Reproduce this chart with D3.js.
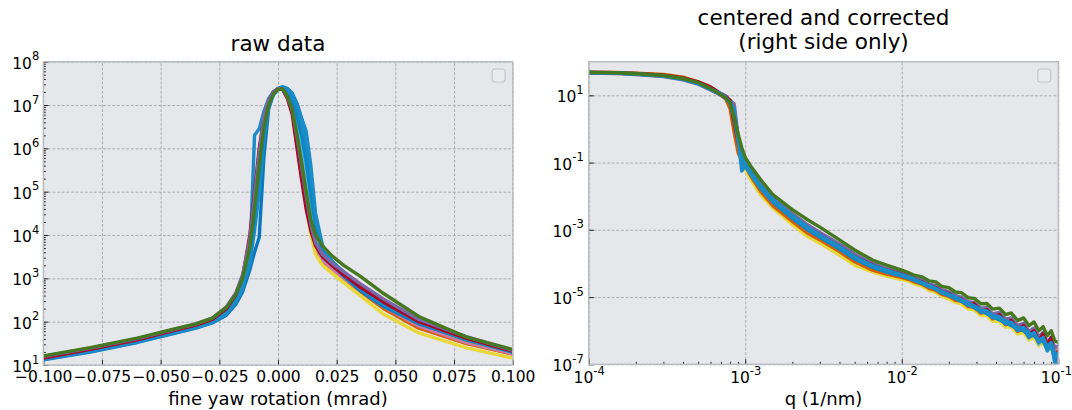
<!DOCTYPE html>
<html>
<head>
<meta charset="utf-8">
<script src="https://cdn.jsdelivr.net/npm/d3@7"></script>
<style>
    body { margin: 0; background: #fff; }
    svg text { font-family: 'DejaVu Sans', sans-serif; fill: #000; }
</style>
</head>
<body>
<svg id="chart" width="1072" height="410"></svg>
<script>

// ---- raw data panel (yaw in mrad, intensity as log10) ----
var yawX = [-0.1, -0.08, -0.06, -0.045, -0.035, -0.028, -0.022, -0.018, -0.015, -0.012, -0.01, -0.008,
    -0.006, -0.004, -0.002, 0, 0.002, 0.004, 0.006, 0.008, 0.01, 0.012, 0.014, 0.016, 0.019, 0.023,
    0.028, 0.035, 0.045, 0.06, 0.08, 0.1];

var rawOrange = [1.19, 1.37, 1.58, 1.78, 1.92, 2.04, 2.28, 2.58, 2.95, 3.6, 4.5, 5.5, 6.45, 7.0, 7.25, 7.36, 7.38, 7.22, 6.95, 6.35, 5.6, 4.9, 4.2, 3.7, 3.4, 3.2, 2.98, 2.7, 2.3, 1.85, 1.5, 1.25];
var rawPink = [1.18, 1.36, 1.58, 1.78, 1.91, 2.03, 2.27, 2.57, 2.95, 3.65, 4.55, 5.55, 6.45, 7.0, 7.25, 7.35, 7.37, 7.22, 6.95, 6.35, 5.6, 4.9, 4.2, 3.72, 3.42, 3.22, 3.0, 2.72, 2.35, 1.9, 1.52, 1.26];
var rawTeal = [1.2, 1.38, 1.6, 1.8, 1.93, 2.05, 2.3, 2.6, 3.0, 3.7, 4.6, 5.6, 6.5, 7.02, 7.26, 7.36, 7.38, 7.24, 6.98, 6.4, 5.65, 4.95, 4.25, 3.8, 3.5, 3.3, 3.1, 2.8, 2.45, 1.98, 1.58, 1.3];
var rawYellow = [1.18, 1.36, 1.57, 1.77, 1.9, 2.02, 2.26, 2.55, 2.9, 3.55, 4.45, 5.45, 6.4, 6.98, 7.24, 7.35, 7.38, 7.24, 6.98, 6.4, 5.55, 4.7, 4.0, 3.55, 3.3, 3.12, 2.9, 2.6, 2.17, 1.74, 1.4, 1.16];
var rawLightBlue = [1.15, 1.34, 1.56, 1.76, 1.89, 2.01, 2.24, 2.52, 2.88, 3.5, 4.3, 5.3, 6.35, 6.95, 7.22, 7.35, 7.39, 7.3, 7.1, 6.7, 6.1, 5.4, 4.6, 4.0, 3.6, 3.35, 3.1, 2.8, 2.45, 2.0, 1.6, 1.3];
var rawDarkBlue = [1.12, 1.3, 1.52, 1.72, 1.85, 1.97, 2.15, 2.4, 2.7, 3.2, 3.6, 3.95, 5.8, 6.9, 7.25, 7.38, 7.42, 7.38, 7.28, 7.05, 6.7, 6.3, 5.4, 4.4, 3.7, 3.32, 3.05, 2.72, 2.35, 1.95, 1.6, 1.3];
var rawBlue2 = [1.13, 1.31, 1.53, 1.73, 1.86, 1.98, 2.18, 2.45, 2.78, 3.35, 4.1, 5.0, 6.2, 6.95, 7.28, 7.38, 7.41, 7.36, 7.22, 6.95, 6.55, 6.05, 5.2, 4.3, 3.65, 3.35, 3.08, 2.76, 2.4, 1.98, 1.6, 1.31];
var rawBlue3 = [1.15, 1.33, 1.55, 1.75, 1.88, 2.0, 2.22, 2.5, 2.85, 3.5, 4.4, 5.4, 6.4, 7.0, 7.26, 7.37, 7.4, 7.3, 7.1, 6.75, 6.3, 5.7, 4.9, 4.2, 3.62, 3.38, 3.15, 2.85, 2.5, 2.05, 1.64, 1.34];
var rawBlue = [1.14, 1.32, 1.54, 1.74, 1.87, 1.99, 2.2, 2.48, 2.82, 3.45, 6.3, 6.45, 6.85, 7.15, 7.3, 7.38, 7.42, 7.38, 7.25, 7.0, 6.7, 6.4, 5.6, 4.5, 3.75, 3.4, 3.12, 2.8, 2.42, 2.0, 1.62, 1.33];
var rawRed = [1.16, 1.36, 1.58, 1.79, 1.92, 2.05, 2.3, 2.62, 3.05, 4.0, 5.0, 6.0, 6.7, 7.1, 7.3, 7.37, 7.36, 7.15, 6.8, 6.05, 5.3, 4.6, 4.1, 3.75, 3.5, 3.3, 3.08, 2.8, 2.45, 2.0, 1.62, 1.32];
var rawPurple = [1.2, 1.39, 1.61, 1.81, 1.95, 2.08, 2.34, 2.66, 3.1, 3.9, 4.9, 5.9, 6.75, 7.12, 7.3, 7.38, 7.36, 7.2, 6.9, 6.3, 5.6, 4.9, 4.25, 3.82, 3.55, 3.35, 3.15, 2.88, 2.52, 2.05, 1.66, 1.34];
var rawGreen = [1.21, 1.4, 1.62, 1.82, 1.95, 2.08, 2.33, 2.63, 3.02, 3.72, 4.62, 5.6, 6.5, 7.0, 7.25, 7.36, 7.37, 7.2, 6.9, 6.35, 5.7, 5.0, 4.35, 4.0, 3.75, 3.52, 3.3, 3.05, 2.65, 2.12, 1.65, 1.36];

var rawSeries = [rawOrange, rawPink, rawTeal, rawYellow, rawLightBlue, rawDarkBlue, rawBlue2, rawBlue3, rawBlue, rawRed, rawPurple, rawGreen];
var rawColors = ['#D55E00', '#CC79A7', '#009E73', '#E8D83A', '#56B4E9', '#0B78BE', '#1A8DC9', '#0E86C6', '#1A8DC9', '#A60628', '#7A68A6', '#467821'];

var yawTicks = [-0.1, -0.075, -0.05, -0.025, 0, 0.025, 0.05, 0.075, 0.1];
var yawTickLabels = ['\u22120.100', '\u22120.075', '\u22120.050', '\u22120.025', '0.000', '0.025', '0.050', '0.075', '0.100'];
var rawDecades = [1, 2, 3, 4, 5, 6, 7, 8];

// ---- corrected panel (q in 1/nm, intensity as log10) ----
var qX = [1e-4, 1.5e-4, 2e-4, 3e-4, 4e-4, 5e-4, 6e-4, 7e-4, 7.5e-4, 8e-4, 8.5e-4, 9e-4, 9.5e-4, 1e-3,
    1.1e-3, 1.25e-3, 1.5e-3, 2e-3, 2.5e-3, 3e-3, 4e-3, 5e-3, 6.5e-3, 8e-3, 1e-2,
    1.1e-2, 1.2e-2, 1.35e-2, 1.5e-2, 1.65e-2, 1.8e-2, 2e-2, 2.2e-2, 2.4e-2, 2.65e-2, 2.9e-2, 3.2e-2,
    3.5e-2, 3.8e-2, 4.2e-2, 4.6e-2, 5e-2, 5.5e-2, 6e-2, 6.5e-2, 7e-2, 7.5e-2, 8e-2, 8.5e-2, 9e-2, 9.5e-2, 1e-1];

var corYellow = [1.67, 1.66, 1.63, 1.58, 1.49, 1.36, 1.2, 1.02, 0.92, 0.75, 0.1, -0.5, -0.85, -1.2, -1.55, -1.95, -2.35, -2.85, -3.2, -3.4, -3.75, -4.05, -4.25, -4.38, -4.48,
    -4.52, -4.6, -4.68, -4.8, -4.86, -4.98, -5.06, -5.16, -5.2, -5.35, -5.38, -5.55, -5.55, -5.72, -5.72, -5.9, -5.88, -6.1, -6.05, -6.28, -6.2, -6.45, -6.35, -6.6, -6.5, -6.75, -6.7];
var corPink = [1.67, 1.66, 1.63, 1.58, 1.5, 1.37, 1.2, 1.02, 0.92, 0.78, 0.25, -0.35, -0.8, -1.0, -1.3, -1.68, -2.1, -2.55, -2.88, -3.1, -3.45, -3.75, -4.02, -4.18, -4.3,
    -4.38, -4.46, -4.53, -4.64, -4.7, -4.82, -4.87, -4.98, -5.03, -5.18, -5.2, -5.38, -5.36, -5.55, -5.52, -5.72, -5.66, -5.9, -5.82, -6.08, -5.97, -6.25, -6.12, -6.4, -6.25, -6.55, -6.5];
var corLightBlue = [1.68, 1.66, 1.64, 1.58, 1.49, 1.37, 1.19, 1.02, 0.9, 0.7, 0.3, -0.4, -1.0, -1.05, -1.38, -1.78, -2.2, -2.68, -3.02, -3.25, -3.6, -3.9, -4.15, -4.28, -4.4,
    -4.45, -4.52, -4.6, -4.72, -4.78, -4.9, -4.95, -5.08, -5.1, -5.27, -5.25, -5.46, -5.42, -5.64, -5.58, -5.82, -5.72, -6.02, -5.9, -6.22, -6.05, -6.4, -6.2, -6.6, -6.4, -6.85, -6.95];
var corPurple = [1.66, 1.65, 1.62, 1.56, 1.46, 1.33, 1.16, 1.0, 0.9, 0.85, 0.75, -0.2, -0.9, -1.05, -1.3, -1.65, -2.05, -2.52, -2.85, -3.08, -3.42, -3.72, -4.0, -4.15, -4.28,
    -4.35, -4.43, -4.5, -4.62, -4.66, -4.78, -4.84, -4.95, -5.0, -5.14, -5.16, -5.33, -5.32, -5.5, -5.46, -5.66, -5.62, -5.85, -5.78, -6.02, -5.92, -6.18, -6.05, -6.35, -6.2, -6.5, -6.45];
var corOrange = [1.69, 1.68, 1.66, 1.62, 1.54, 1.4, 1.22, 1.0, 0.9, 0.6, -0.1, -0.7, -0.95, -1.1, -1.45, -1.85, -2.28, -2.75, -3.1, -3.3, -3.65, -3.95, -4.2, -4.32, -4.42,
    -4.47, -4.55, -4.62, -4.75, -4.8, -4.92, -4.98, -5.1, -5.12, -5.28, -5.3, -5.48, -5.45, -5.65, -5.6, -5.82, -5.78, -6.02, -5.95, -6.2, -6.1, -6.35, -6.25, -6.5, -6.4, -6.7, -6.6];
var corRed = [1.68, 1.67, 1.65, 1.6, 1.52, 1.4, 1.25, 1.05, 0.98, 0.85, 0.2, -0.4, -0.8, -1.0, -1.35, -1.72, -2.15, -2.6, -2.95, -3.15, -3.5, -3.8, -4.05, -4.2, -4.32,
    -4.4, -4.48, -4.55, -4.66, -4.72, -4.84, -4.9, -5.02, -5.06, -5.22, -5.2, -5.42, -5.38, -5.6, -5.52, -5.78, -5.7, -5.95, -5.85, -6.12, -6.0, -6.3, -6.1, -6.45, -6.2, -6.9, -6.6];
var corBlue3 = [1.67, 1.66, 1.63, 1.57, 1.48, 1.35, 1.18, 1.02, 0.92, 0.76, 0.3, -0.35, -0.9, -1.08, -1.38, -1.76, -2.18, -2.66, -3.0, -3.22, -3.57, -3.87, -4.12, -4.26, -4.38,
    -4.44, -4.5, -4.6, -4.68, -4.77, -4.86, -4.96, -5.03, -5.13, -5.2, -5.32, -5.4, -5.5, -5.58, -5.68, -5.76, -5.85, -5.96, -6.0, -6.14, -6.15, -6.3, -6.32, -6.55, -6.45, -6.8, -6.65];
var corBlue2 = [1.68, 1.67, 1.64, 1.58, 1.49, 1.36, 1.19, 1.03, 0.93, 0.78, 0.45, -0.2, -0.75, -1.02, -1.32, -1.68, -2.1, -2.58, -2.92, -3.15, -3.5, -3.8, -4.06, -4.2, -4.33,
    -4.4, -4.47, -4.57, -4.66, -4.74, -4.84, -4.92, -5.0, -5.08, -5.18, -5.26, -5.38, -5.42, -5.55, -5.58, -5.72, -5.76, -5.92, -5.9, -6.08, -6.1, -6.28, -6.22, -6.48, -6.35, -6.7, -6.85];
var corBlue = [1.68, 1.66, 1.63, 1.57, 1.48, 1.35, 1.18, 1.05, 0.95, 0.8, 0.6, -0.3, -1.25, -1.1, -1.4, -1.75, -2.15, -2.62, -2.95, -3.18, -3.52, -3.82, -4.08, -4.22, -4.35,
    -4.42, -4.5, -4.58, -4.7, -4.75, -4.88, -4.93, -5.05, -5.1, -5.25, -5.27, -5.45, -5.43, -5.62, -5.6, -5.8, -5.75, -6.0, -5.92, -6.2, -6.05, -6.35, -6.2, -6.6, -6.4, -6.95, -7.0];
var corGreen = [1.68, 1.67, 1.64, 1.59, 1.5, 1.38, 1.2, 1.02, 0.92, 0.8, 0.35, -0.15, -0.55, -0.85, -1.15, -1.5, -1.95, -2.4, -2.7, -2.92, -3.3, -3.6, -3.9, -4.05, -4.2,
    -4.27, -4.35, -4.4, -4.52, -4.55, -4.68, -4.72, -4.85, -4.87, -5.02, -5.04, -5.2, -5.19, -5.36, -5.33, -5.52, -5.47, -5.7, -5.62, -5.85, -5.74, -6.0, -5.88, -6.15, -6.0, -6.3, -6.35];

var corSeries = [corYellow, corPink, corLightBlue, corPurple, corOrange, corRed, corBlue3, corBlue2, corBlue, corGreen];
var corColors = ['#E8D83A', '#CC79A7', '#56B4E9', '#7A68A6', '#D55E00', '#A60628', '#0E86C6', '#1A8DC9', '#1A8DC9', '#467821'];

var qDecades = [-4, -3, -2, -1];
var corLabelDecades = [1, -1, -3, -5, -7];

var W = 1072;
var svg = d3.select('#chart');
var frameColor = '#b9bcc0';
var gridColor = '#a6a9ad';
var panelBg = '#e5e7ea';

function supLabel(sel, exp) {
    sel.text('');
    sel.append('tspan').text('10');
    sel.append('tspan')
        .attr('dy', -8.5)
        .style('font-size', '11.5px')
        .text(String(exp));
}

function minorsFor(decades) {
    var out = [];
    decades.forEach(function (e) {
        for (var m = 2; m < 10; m++) out.push(m * Math.pow(10, e));
    });
    return out;
}

function drawPanel(p) {
    var g = svg.append('g');
    var x0 = p.x.range()[0], x1 = p.x.range()[1];
    var y0 = p.y.range()[1], y1 = p.y.range()[0];
    var w = x1 - x0, h = y1 - y0;

    //background
    g.append('rect')
        .attr('x', x0).attr('y', y0)
        .attr('width', w).attr('height', h)
        .style('fill', panelBg);

    //grid
    g.append('g')
        .attr('transform', 'translate(0,' + y1 + ')')
        .call(d3.axisBottom(p.x).tickValues(p.xGrid).tickSize(-h).tickFormat(''))
        .call(function (a) { a.select('.domain').remove(); });
    g.append('g')
        .attr('transform', 'translate(' + x0 + ',0)')
        .call(d3.axisLeft(p.y).tickValues(p.yGrid).tickSize(-w).tickFormat(''))
        .call(function (a) { a.select('.domain').remove(); });
    g.selectAll('.tick line')
        .attr('stroke', gridColor)
        .attr('stroke-width', 0.9)
        .attr('stroke-dasharray', '3,1.6');

    //ticks inside
    var xAx = g.append('g')
        .attr('transform', 'translate(0,' + y1 + ')')
        .call(d3.axisBottom(p.x).tickValues(p.xTicks).tickSize(-5).tickPadding(p.xPad).tickFormat(p.xFormat));
    xAx.select('.domain').remove();
    xAx.selectAll('text').style('font-size', '15.5px');
    if (p.xSup) xAx.selectAll('text').each(function (d) { supLabel(d3.select(this), Math.round(Math.log10(d))); });

    // keep the last label inside the page edge
    xAx.selectAll('text').each(function (d) {
        var b = this.getBBox();
        var over = p.x(d) + b.x + b.width - (W - 0.5);
        if (over > 0) d3.select(this).attr('x', -over);
    });

    var yAx = g.append('g')
        .attr('transform', 'translate(' + x0 + ',0)')
        .call(d3.axisLeft(p.y).tickValues(p.yTicks).tickSize(-5).tickPadding(p.yPad).tickFormat(''));
    yAx.select('.domain').remove();
    yAx.selectAll('text')
        .style('font-size', '15.5px')
        .attr('dy', 6.5)
        .each(function (d) { supLabel(d3.select(this), Math.round(Math.log10(d))); });

    if (p.xMinor) {
        g.append('g')
            .attr('transform', 'translate(0,' + y1 + ')')
            .call(d3.axisBottom(p.x).tickValues(p.xMinor).tickSize(-2.5).tickFormat(''))
            .select('.domain').remove();
    }
    if (p.yMinor) {
        g.append('g')
            .attr('transform', 'translate(' + x0 + ',0)')
            .call(d3.axisLeft(p.y).tickValues(p.yMinor).tickSize(-2.5).tickFormat(''))
            .select('.domain').remove();
    }
    g.selectAll('.tick line:not([stroke-dasharray])').attr('stroke', '#222').attr('stroke-width', 1);

    //curves
    var clipId = 'clip-' + p.id;
    svg.append('clipPath').attr('id', clipId)
        .append('rect').attr('x', x0).attr('y', y0).attr('width', w).attr('height', h);
    var line = d3.line()
        .x(function (d) { return p.x(d[0]); })
        .y(function (d) { return p.y(Math.pow(10, d[1])); });
    var lines = g.append('g').attr('clip-path', 'url(#' + clipId + ')');
    p.series.forEach(function (vals, i) {
        lines.append('path')
            .datum(vals.map(function (v, j) { return [p.xs[j], v]; }))
            .attr('d', line)
            .style('fill', 'none')
            .style('stroke', p.colors[i])
            .style('stroke-width', 3.4)
            .style('stroke-linejoin', 'round');
    });

    //frame
    g.append('rect')
        .attr('x', x0).attr('y', y0)
        .attr('width', w).attr('height', h)
        .style('fill', 'none')
        .style('stroke', frameColor)
        .style('stroke-width', 1.4);

    //empty legend box
    g.append('rect')
        .attr('x', x1 - 20.5).attr('y', y0 + 7.3)
        .attr('width', 13).attr('height', 13)
        .attr('rx', 3)
        .style('fill', '#e9ebed')
        .style('stroke', '#c4c7ca')
        .style('stroke-width', 1.2);

    //titles and label
    var cx = (x0 + x1) / 2;
    p.title.forEach(function (t, i) {
        svg.append('text')
            .attr('x', cx)
            .attr('y', p.titleY + i * 24.5)
            .attr('text-anchor', 'middle')
            .style('font-size', '21.5px')
            .text(t);
    });
    svg.append('text')
        .attr('x', cx)
        .attr('y', 404.5)
        .attr('text-anchor', 'middle')
        .style('font-size', '18px')
        .text(p.xLabel);
}

drawPanel({
    id: 'raw',
    x: d3.scaleLinear().domain([-0.1, 0.1]).range([43.3, 512.7]),
    y: d3.scaleLog().domain([1e1, 1e8]).range([365, 61.7]),
    xs: yawX,
    series: rawSeries,
    colors: rawColors,
    xGrid: yawTicks,
    yGrid: rawDecades.map(function (e) { return Math.pow(10, e); }),
    xTicks: yawTicks,
    xFormat: function (d, i) { return yawTickLabels[i]; },
    xPad: 5.5,
    yTicks: rawDecades.map(function (e) { return Math.pow(10, e); }),
    yMinor: minorsFor([1, 2, 3, 4, 5, 6, 7]),
    yPad: 4,
    title: ['raw data'],
    titleY: 51,
    xLabel: 'fine yaw rotation (mrad)'
});

drawPanel({
    id: 'cor',
    x: d3.scaleLog().domain([1e-4, 1e-1]).range([588.7, 1058.3]),
    y: d3.scaleLog().domain([1e-7, 1e2]).range([364.3, 61.7]),
    xs: qX,
    series: corSeries,
    colors: corColors,
    xGrid: qDecades.map(function (e) { return Math.pow(10, e); }),
    yGrid: corLabelDecades.map(function (e) { return Math.pow(10, e); }),
    xTicks: qDecades.map(function (e) { return Math.pow(10, e); }),
    xFormat: function () { return ''; },
    xSup: true,
    xPad: 8,
    xMinor: minorsFor([-4, -3, -2]),
    yTicks: corLabelDecades.map(function (e) { return Math.pow(10, e); }),
    yPad: 5,
    title: ['centered and corrected', '(right side only)'],
    titleY: 24.5,
    xLabel: 'q (1/nm)'
});

</script>
</body>
</html>
